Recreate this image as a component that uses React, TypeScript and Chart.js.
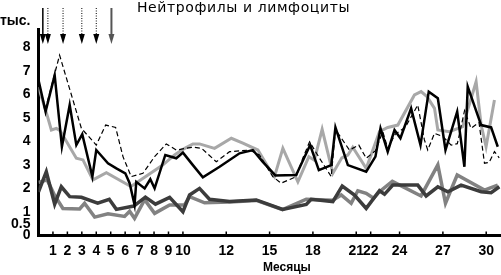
import React, { useEffect, useRef } from "react";
import { Chart, registerables } from "chart.js";

Chart.register(...registerables);

const titleText = "Нейтрофилы и лимфоциты";
const yUnitText = "тыс.";
const xTitleText = "Месяцы";

// x positions of labelled ticks (plot units) and their month labels
const xTickPos = [1, 2, 3, 4, 5, 6, 7, 8, 9, 10, 13, 16, 19, 22, 23, 25, 28, 31];
const xTickLabels = ["1", "2", "3", "4", "5", "6", "7", "8", "9", "10", "12", "15", "18", "21", "22", "24", "27", "30"];
const yTickValues = [0, 0.5, 1, 2, 3, 4, 5, 6, 7, 8];

// treatment arrows (plot units)
const arrowPos = [0.3, 0.65, 1.7, 3.0, 4.0, 5.05];

// neutrophils, black solid
const neutroBlack: [number, number][] = [
  [0.0, 6.6], [0.49, 5.26], [1.12, 6.81], [1.62, 3.77], [2.16, 5.54], [2.62, 3.84], [3.03, 4.3],
  [3.73, 2.5], [4.0, 3.63], [4.81, 3.07], [5.39, 2.85], [6.01, 2.64], [6.31, 2.22], [6.65, 1.3],
  [6.77, 2.28], [7.35, 2.0], [7.74, 2.39], [8.04, 2.0], [8.78, 3.42], [9.54, 3.28], [10.0, 3.52],
  [10.69, 2.99], [11.38, 2.47], [12.54, 2.92], [13.92, 3.49], [14.84, 3.63], [15.53, 3.13],
  [16.4, 2.55], [17.84, 2.57], [18.81, 3.84], [19.41, 2.78], [20.27, 2.99], [20.56, 4.59],
  [21.42, 2.99], [22.69, 2.71], [23.33, 3.35], [23.68, 4.55], [24.18, 3.56], [24.65, 4.48],
  [25.06, 4.13], [25.8, 5.4], [26.45, 3.84], [27.02, 6.11], [27.65, 5.83], [28.18, 3.63],
  [28.99, 5.26], [29.49, 2.92], [29.72, 6.32], [30.65, 4.69], [31.34, 4.59], [31.8, 3.77],
];

// neutrophils, dashed
const neutroDashed: [number, number][] = [
  [0.0, 6.6], [0.45, 5.3], [1.46, 7.66], [2.97, 4.55], [4.0, 3.84], [4.65, 4.69], [5.34, 4.59],
  [5.85, 3.35], [6.42, 2.5], [7.23, 2.64], [8.04, 3.35], [8.85, 3.89], [9.54, 3.63], [10.69, 3.75],
  [11.3, 3.7], [12.31, 3.13], [13.23, 3.56], [14.61, 3.63], [15.3, 3.42], [16.22, 2.5], [16.8, 2.22],
  [17.84, 2.5], [18.3, 3.28], [18.77, 3.98], [19.46, 3.28], [20.27, 2.5], [20.56, 4.5], [21.53, 3.63],
  [22.18, 3.84], [22.69, 3.28], [23.33, 3.6], [23.84, 4.41], [24.18, 3.7], [24.7, 4.3], [25.4, 4.6],
  [26.26, 5.54], [26.72, 4.06], [26.95, 3.63], [27.42, 4.34], [28.0, 4.2], [28.57, 3.84], [29.0, 3.9],
  [29.5, 5.3], [29.95, 4.55], [30.5, 4.8], [30.88, 3.07], [31.2, 3.1], [31.57, 3.56], [31.9, 3.3],
];

// neutrophils, light grey
const neutroGrey: [number, number][] = [
  [0.0, 6.3], [0.6, 5.1], [0.89, 4.48], [1.24, 4.55], [1.5, 4.45], [2.62, 3.28], [3.08, 3.21],
  [3.77, 2.36], [4.7, 2.67], [6.4, 2.08], [8.6, 2.99], [9.42, 3.42], [10.0, 3.66], [10.69, 3.89],
  [11.15, 3.89], [12.19, 3.7], [13.35, 4.13], [14.15, 3.92], [15.19, 3.63], [16.0, 2.8], [16.34, 2.5],
  [16.92, 3.7], [17.96, 2.28], [18.72, 3.35], [19.1, 3.2], [19.64, 4.51], [20.38, 2.64], [21.0, 3.3],
  [21.42, 3.42], [21.76, 3.75], [22.69, 2.85], [23.61, 4.41], [24.18, 4.59], [24.88, 4.69],
  [26.03, 5.97], [26.49, 6.11], [26.9, 5.9], [27.42, 5.4], [27.65, 4.48], [28.45, 4.41], [29.37, 4.62],
  [30.3, 6.53], [30.65, 4.69], [30.99, 3.77], [31.57, 5.75],
];

// lymphocytes, dark grey
const lymphoDark: [number, number][] = [
  [0.0, 1.85], [0.54, 2.71], [1.12, 1.33], [1.58, 2.07], [2.16, 1.65], [2.97, 1.62], [4.1, 1.37],
  [4.9, 1.54], [5.39, 1.11], [6.6, 1.25], [7.4, 1.63], [8.1, 1.33], [9.08, 1.62], [10.0, 1.01],
  [10.46, 1.72], [11.15, 2.0], [11.84, 1.54], [13.23, 1.44], [15.08, 1.51], [16.9, 1.11],
  [18.54, 1.32], [18.88, 1.54], [20.38, 1.44], [21.03, 2.1], [21.88, 1.72], [22.69, 1.15],
  [23.61, 1.9], [23.96, 1.75], [24.53, 2.14], [26.26, 2.14], [26.84, 1.68], [27.65, 2.07],
  [28.34, 1.86], [29.26, 2.14], [30.65, 1.86], [31.34, 1.82], [31.91, 2.07],
];

// lymphocytes, mid grey
const lymphoGrey: [number, number][] = [
  [0.0, 2.25], [0.6, 2.36], [1.12, 1.7], [1.69, 1.15], [2.85, 1.13], [3.19, 1.37], [3.89, 0.78],
  [4.81, 0.92], [5.96, 0.81], [6.31, 1.03], [6.65, 0.73], [7.35, 1.52], [8.04, 0.94], [9.08, 1.3],
  [10.11, 1.3], [10.46, 1.65], [11.5, 1.39], [13.23, 1.42], [15.08, 1.49], [16.9, 1.1], [18.54, 1.54],
  [20.38, 1.5], [20.96, 1.72], [21.65, 1.37], [22.11, 1.9], [22.69, 1.79], [23.2, 1.58], [23.61, 1.86],
  [24.5, 2.3], [26.49, 1.68], [27.65, 3.0], [28.18, 1.37], [28.99, 2.57], [30.88, 1.93], [31.8, 2.14],
];

const toXY = (arr: [number, number][]) => arr.map(([x, y]) => ({ x, y }));

const decorPlugin = {
  id: "decor",
  afterDraw(chart: any) {
    const ctx = chart.ctx as CanvasRenderingContext2D;
    const xs = chart.scales.x;
    const area = chart.chartArea;
    ctx.save();
    // inward tick marks on the x axis
    ctx.strokeStyle = "#000";
    ctx.lineWidth = 1.5;
    xs.ticks.forEach((t: any) => {
      const px = xs.getPixelForValue(t.value);
      ctx.beginPath();
      ctx.moveTo(px, area.bottom);
      ctx.lineTo(px, area.bottom - 4);
      ctx.stroke();
    });
    // arrows
    const top = 8;
    const tip = 44;
    arrowPos.forEach((v, i) => {
      const px = xs.getPixelForValue(v);
      const last = i === arrowPos.length - 1;
      const dotted = i > 0 && !last;
      const col = last ? "#555" : "#000";
      ctx.strokeStyle = col;
      ctx.fillStyle = col;
      ctx.lineWidth = dotted ? 1 : last ? 2 : 1.5;
      ctx.setLineDash(dotted ? [1, 1.5] : []);
      ctx.beginPath();
      ctx.moveTo(px, top);
      ctx.lineTo(px, tip - 8);
      ctx.stroke();
      ctx.setLineDash([]);
      ctx.beginPath();
      ctx.moveTo(px - 3, tip - 10);
      ctx.lineTo(px + 3, tip - 10);
      ctx.lineTo(px, tip);
      ctx.closePath();
      ctx.fill();
    });
    // texts
    ctx.fillStyle = "#000";
    ctx.textBaseline = "middle";
    ctx.textAlign = "center";
    ctx.font = "14px 'DejaVu Sans'";
    (ctx as any).letterSpacing = "0.6px";
    ctx.fillText(titleText, 243.5, 8.5);
    (ctx as any).letterSpacing = "0px";
    ctx.font = "bold 14px 'Liberation Sans'";
    ctx.textAlign = "left";
    ctx.fillText(yUnitText, 0, 21.5);
    ctx.font = "bold 12px 'Liberation Sans'";
    ctx.textAlign = "center";
    ctx.fillText(xTitleText, xs.getPixelForValue(17.2), 267.5);
    ctx.restore();
  },
};

export default function App() {
  const ref = useRef<HTMLCanvasElement | null>(null);
  useEffect(() => {
    if (!ref.current) return;
    const tickFont = { family: "'Liberation Sans'", weight: "bold" as const, size: 14 };
    const chart = new Chart(ref.current, {
      type: "line",
      data: {
        datasets: [
          { data: toXY(neutroBlack), borderColor: "#000", borderWidth: 2.5, pointRadius: 0, tension: 0 },
          { data: toXY(neutroDashed), borderColor: "#000", borderWidth: 1.2, borderDash: [5, 3], pointRadius: 0, tension: 0 },
          { data: toXY(neutroGrey), borderColor: "#a8a8a8", borderWidth: 3, pointRadius: 0, tension: 0 },
          { data: toXY(lymphoDark), borderColor: "#3c3c3c", borderWidth: 3.5, pointRadius: 0, tension: 0 },
          { data: toXY(lymphoGrey), borderColor: "#828282", borderWidth: 3.5, pointRadius: 0, tension: 0 },
        ],
      },
      options: {
        animation: false,
        responsive: false,
        maintainAspectRatio: false,
        devicePixelRatio: 1,
        layout: { padding: { top: 29, left: 0, right: 0, bottom: 0 } },
        plugins: { legend: { display: false }, title: { display: false }, tooltip: { enabled: false } },
        scales: {
          x: {
            type: "linear",
            min: 0,
            max: 32,
            border: { display: true, color: "#000", width: 3 },
            grid: { drawOnChartArea: false, drawTicks: false },
            afterBuildTicks: (s: any) => {
              s.ticks = xTickPos.map((v) => ({ value: v }));
            },
            afterFit: (s: any) => {
              s.height = 39.5;
            },
            ticks: {
              autoSkip: false,
              maxRotation: 0,
              padding: 7,
              color: "#000",
              font: tickFont,
              callback: (_v: any, i: number) => xTickLabels[i],
            },
          },
          y: {
            type: "linear",
            min: 0,
            max: 8.77,
            border: { display: true, color: "#000", width: 3 },
            grid: { drawOnChartArea: false, drawTicks: false },
            afterBuildTicks: (s: any) => {
              s.ticks = yTickValues.map((v) => ({ value: v }));
            },
            afterFit: (s: any) => {
              s.width = 38.5;
            },
            ticks: {
              autoSkip: false,
              padding: 8,
              color: "#000",
              font: tickFont,
              callback: (_v: any, i: number) => String(yTickValues[i]),
            },
          },
        },
      },
      plugins: [decorPlugin],
    });
    return () => chart.destroy();
  }, []);
  return (
    <div style={{ position: "fixed", left: 0, top: 0, width: 501, height: 275, background: "#fff" }}>
      <canvas ref={ref} width={501} height={275} style={{ width: 501, height: 275 }} />
    </div>
  );
}
